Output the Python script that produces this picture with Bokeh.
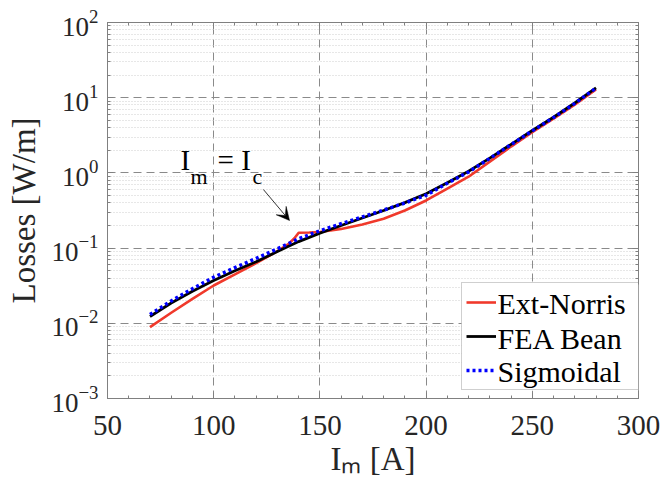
from bokeh.plotting import figure
from bokeh.models import (LinearAxis, LogAxis, FixedTicker, LogTickFormatter, Legend,
                          LegendItem, Label, Arrow, VeeHead, Range1d, CustomJSTickFormatter,
                          BoxAnnotation)
from bokeh.core.properties import value
from bokeh.embed import file_html
from bokeh.resources import INLINE

# ---------------- data ----------------
X_TICKS = [50, 100, 150, 200, 250, 300]
Y_TICKS = [1e-3, 1e-2, 1e-1, 1e0, 1e1, 1e2]
SERIES_NAMES = ["Ext-Norris", "FEA Bean", "Sigmoidal"]

x_norris = [70, 80, 90, 100, 110, 120, 130, 135, 138, 140, 145, 150, 160, 170, 180,
            190, 200, 210, 220, 230, 240, 250, 260, 270, 280]
y_norris = [0.0089, 0.0138, 0.0211, 0.0318, 0.0447, 0.063, 0.091, 0.112, 0.135, 0.160,
            0.161, 0.164, 0.180, 0.2065, 0.245, 0.316, 0.43, 0.62, 0.89, 1.41, 2.24,
            3.47, 5.25, 8.1, 12.9]

x_fea = [70, 80, 90, 100, 110, 120, 130, 140, 150, 160, 170, 180, 190, 200, 210, 220,
         230, 240, 250, 260, 270, 280]
y_fea = [0.0123, 0.0186, 0.0266, 0.037, 0.050, 0.066, 0.090, 0.122, 0.158, 0.200, 0.251,
         0.316, 0.403, 0.527, 0.74, 1.05, 1.57, 2.40, 3.66, 5.5, 8.5, 13.5]

x_sig = [70, 80, 90, 100, 110, 120, 130, 140, 150, 160, 170, 180, 190, 200, 210, 220,
         230, 240, 250, 260, 270, 280]
y_sig = [0.0131, 0.0198, 0.0288, 0.041, 0.055, 0.073, 0.098, 0.133, 0.170, 0.211, 0.260,
         0.320, 0.398, 0.505, 0.73, 1.03, 1.56, 2.38, 3.62, 5.45, 8.4, 13.4]

SERIF = "Liberation Serif"
AX_COL = "#808080"
TXT_COL = "#262626"

p = figure(width=662, height=490, x_range=Range1d(50, 300), y_range=Range1d(1e-3, 1e2),
           y_axis_type="log", output_backend="svg", toolbar_location=None,
           min_border_left=107, min_border_right=24, min_border_top=22,
           min_border_bottom=92, background_fill_color="white",
           border_fill_color="white")
p.outline_line_color = AX_COL

x_ticker = FixedTicker(ticks=X_TICKS, minor_ticks=list(range(50, 301, 10)))
y_minor = [m * t for t in Y_TICKS[:-1] for m in range(2, 10)]
y_ticker = FixedTicker(ticks=Y_TICKS, minor_ticks=y_minor)


def style_axis(ax):
    ax.axis_line_color = AX_COL
    ax.major_tick_line_color = AX_COL
    ax.minor_tick_line_color = AX_COL
    ax.major_tick_in = 6
    ax.major_tick_out = 0
    ax.minor_tick_in = 3
    ax.minor_tick_out = 0
    ax.major_label_text_font = SERIF
    ax.major_label_text_color = TXT_COL
    ax.axis_label_text_font = SERIF
    ax.axis_label_text_font_style = "normal"
    ax.axis_label_text_color = TXT_COL


xa = p.xaxis[0]
xa.ticker = x_ticker
style_axis(xa)
xa.major_label_text_font_size = "29px"
xa.major_label_standoff = 17
xa.axis_label = "I\u2098 [A]"
xa.axis_label_text_font_size = "33px"
xa.axis_label_standoff = 3

ya = p.yaxis[0]
ya.ticker = y_ticker
ya.formatter = LogTickFormatter()
style_axis(ya)
ya.major_label_text_font_size = "27px"
ya.major_label_standoff = 9
ya.axis_label = "Losses [W/m]"
ya.axis_label_text_font_size = "33px"
ya.axis_label_standoff = 6

blank = CustomJSTickFormatter(code="return ' ';")
top = LinearAxis(ticker=x_ticker, formatter=blank)
style_axis(top)
top.major_label_text_font_size = "2px"
top.major_label_standoff = 0
p.add_layout(top, "above")
right = LogAxis(ticker=y_ticker, formatter=blank)
style_axis(right)
right.major_label_text_font_size = "2px"
right.major_label_standoff = 0
p.add_layout(right, "right")

p.xgrid.ticker = x_ticker
p.ygrid.ticker = y_ticker
for g in (p.xgrid[0], p.ygrid[0]):
    g.grid_line_color = "#8a8a8a"
    g.grid_line_dash = "8 5"
    g.grid_line_width = 1
p.ygrid.minor_grid_line_color = "#cfcfcf"
p.ygrid.minor_grid_line_dash = "1 2"

r_n = p.line(x_norris, y_norris, line_color="#F0392B", line_width=2.6)
r_f = p.line(x_fea, y_fea, line_color="black", line_width=2.8)
r_s = p.line(x_sig, y_sig, line_color="#0000FF", line_width=3.5, line_dash="3 3")

# white backing for the legend area (hides the grid there)
p.add_layout(BoxAnnotation(left=216.67, right=300, bottom=10 ** -2.8936,
                           top=10 ** -1.484, fill_color="white", fill_alpha=1,
                           line_color=None, level="annotation"))

# legend box with line samples; names drawn as serif text on top
legend = Legend(items=[LegendItem(label=" ", renderers=[r]) for r in (r_n, r_f, r_s)],
                location=(354, 8),
                label_text_font=SERIF, label_text_font_size="29px",
                glyph_width=30, glyph_height=30,
                label_height=30, label_width=137, label_standoff=3, spacing=4,
                padding=4, margin=0, border_line_color="#a0a0a0",
                border_line_width=1, background_fill_alpha=0)
p.add_layout(legend)

LEG_X = [233.6, 233.6, 233.6]
LEG_Y = [10 ** -1.7354, 10 ** -2.2008, 10 ** -2.6396]
leg_text = p.text(x=LEG_X, y=LEG_Y, text=SERIES_NAMES, text_font=value(SERIF),
                  text_font_size="30px", text_color="black", text_align="left",
                  text_baseline="middle")
leg_text.level = "overlay"


def lab(x, y, text, size):
    p.add_layout(Label(x=x, y=y, text=text, text_font=SERIF, text_font_size=size,
                       text_color="black", text_align="left",
                       text_baseline="middle", level="overlay"))


# annotation "I_m = I_c" with arrow
lab(84.4, 10 ** 0.1755, "I", "29px")
lab(89.1, 10 ** -0.0426, "m", "22px")
lab(101.8, 10 ** 0.1755, "= I", "29px")
lab(118.3, 10 ** -0.0426, "c", "22px")

p.add_layout(Arrow(end=VeeHead(size=13, fill_color="black", line_color="black",
                               line_width=0.5),
                   x_start=123.4, y_start=10 ** -0.221, x_end=135.7, y_end=10 ** -0.633,
                   line_color="black", line_width=0.8))

open("out.html", "w").write(file_html(p, INLINE))
